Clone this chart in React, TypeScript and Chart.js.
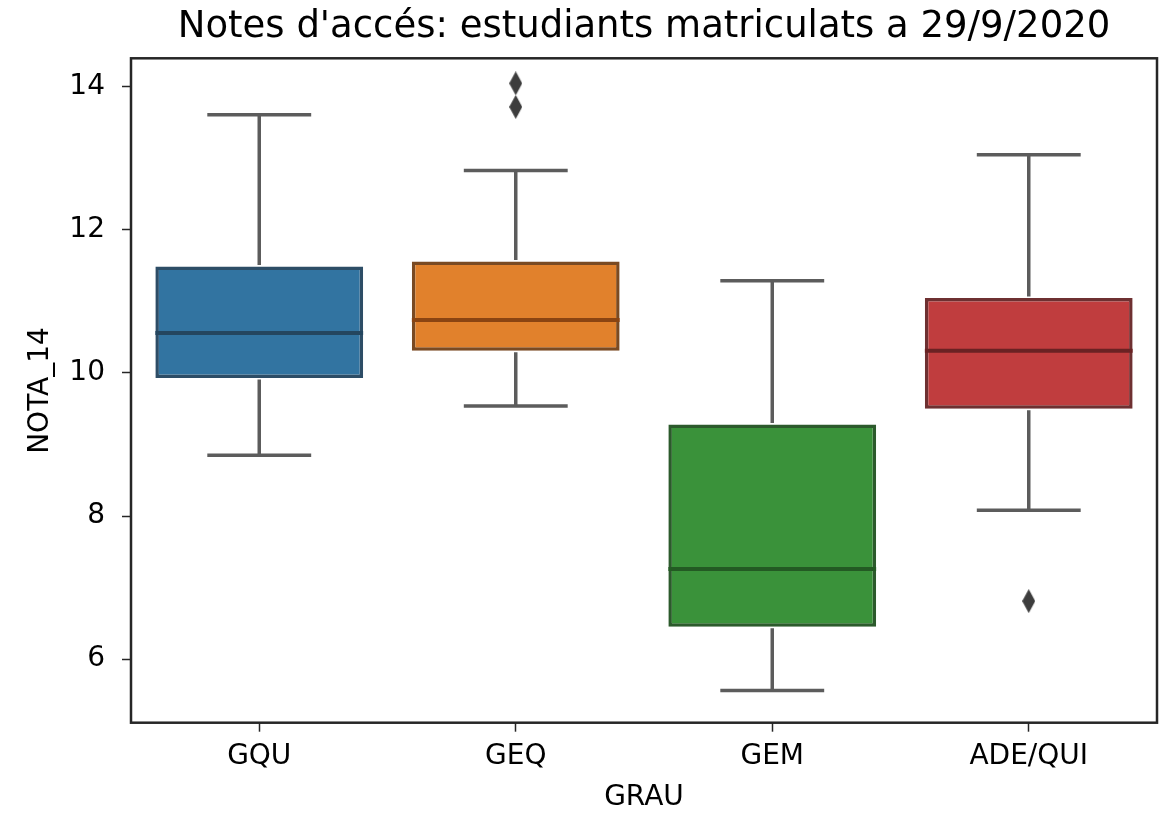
import React, { useEffect, useRef } from "react";
import { Chart, registerables } from "chart.js";

Chart.register(...registerables);

const categories = ["GQU", "GEQ", "GEM", "ADE/QUI"];
const whiskerLow = [8.85, 9.54, 5.56, 8.08];
const q1 = [9.93, 10.31, 6.45, 9.5];
const median = [10.56, 10.74, 7.26, 10.31];
const q3 = [11.49, 11.56, 9.28, 11.05];
const whiskerHigh = [13.61, 12.83, 11.29, 13.05];
const outlierCats = ["GEQ", "GEQ", "ADE/QUI"];
const outlierValues = [14.05, 13.72, 6.81];
const yTicks = [6, 8, 10, 12, 14];

const fillColors = ["#3274a1", "#e1812c", "#3a923a", "#c03d3e"];
const edgeColors = ["#2d4d66", "#7a4a22", "#2c5a2c", "#6e3031"];
const medianColors = ["#24465f", "#8a4412", "#235a23", "#6a2223"];
const whiskerColor = "#5c5c5c";
const frameColor = "#262626";

const FONT = "'DejaVu Sans', sans-serif";

const boxPlugin = {
  id: "boxParts",
  afterDatasetsDraw(chart: any) {
    const ctx = chart.ctx;
    const y = chart.scales.y;
    const meta = chart.getDatasetMeta(0);
    meta.data.forEach((bar: any, i: number) => {
      const x = bar.x;
      const w = bar.width;
      const pLo = y.getPixelForValue(whiskerLow[i]);
      const pQ1 = y.getPixelForValue(q1[i]);
      const pMed = y.getPixelForValue(median[i]);
      const pQ3 = y.getPixelForValue(q3[i]);
      const pHi = y.getPixelForValue(whiskerHigh[i]);
      ctx.save();
      ctx.lineCap = "butt";
      ctx.strokeStyle = whiskerColor;
      ctx.lineWidth = 3.5;
      ctx.beginPath();
      ctx.moveTo(x, pQ1 + 1.5);
      ctx.lineTo(x, pLo);
      ctx.moveTo(x, pQ3 - 1.5);
      ctx.lineTo(x, pHi);
      ctx.moveTo(x - w / 4, pLo);
      ctx.lineTo(x + w / 4, pLo);
      ctx.moveTo(x - w / 4, pHi);
      ctx.lineTo(x + w / 4, pHi);
      ctx.stroke();
      ctx.strokeStyle = medianColors[i];
      ctx.lineWidth = 4;
      ctx.beginPath();
      ctx.moveTo(x - w / 2, pMed);
      ctx.lineTo(x + w / 2, pMed);
      ctx.stroke();
      ctx.restore();
    });
    const a = chart.chartArea;
    ctx.save();
    ctx.strokeStyle = frameColor;
    ctx.lineWidth = 2.5;
    ctx.strokeRect(a.left, a.top, a.right - a.left, a.bottom - a.top);
    ctx.restore();
  },
};

function makeDiamond(): HTMLCanvasElement {
  const c = document.createElement("canvas");
  c.width = 13;
  c.height = 24;
  const g = c.getContext("2d")!;
  g.fillStyle = "#3d3d3d";
  g.beginPath();
  g.moveTo(6.5, 0);
  g.lineTo(13, 12);
  g.lineTo(6.5, 24);
  g.lineTo(0, 12);
  g.closePath();
  g.fill();
  return c;
}

export default function App() {
  const ref = useRef<HTMLCanvasElement>(null);
  useEffect(() => {
    const diamond = makeDiamond();
    const chart = new Chart(ref.current!, {
      type: "bar",
      data: {
        labels: categories,
        datasets: [
          {
            type: "bar",
            data: categories.map((_, i) => [q1[i], q3[i]]) as any,
            backgroundColor: fillColors,
            borderColor: edgeColors,
            borderWidth: 3.5,
            borderSkipped: false,
            categoryPercentage: 0.81,
            barPercentage: 1,
          },
          {
            type: "line",
            data: outlierCats.map((c, i) => ({ x: c, y: outlierValues[i] })) as any,
            showLine: false,
            pointStyle: diamond as any,
            pointRadius: 6,
          },
        ],
      },
      plugins: [boxPlugin],
      options: {
        responsive: false,
        animation: false,
        layout: { padding: { left: 0, right: 9, top: 0, bottom: 0 } },
        plugins: {
          legend: { display: false },
          tooltip: { enabled: false },
          title: {
            display: true,
            text: "Notes d'accés: estudiants matriculats a 29/9/2020",
            fullSize: false,
            color: "#000",
            font: { family: FONT, size: 37, weight: "normal", lineHeight: 1.2 },
            padding: { top: 5, bottom: 8.9 },
          },
        },
        scales: {
          x: {
            type: "category",
            offset: true,
            grid: {
              display: true,
              offset: false,
              drawOnChartArea: false,
              drawTicks: true,
              tickLength: 9,
              tickWidth: 1.5,
              color: frameColor,
            },
            border: { display: false },
            ticks: {
              color: "#000",
              padding: 8.5,
              font: { family: FONT, size: 28, lineHeight: 1.2 },
            },
            title: {
              display: true,
              text: "GRAU",
              color: "#000",
              font: { family: FONT, size: 28, lineHeight: 1.07 },
              padding: { top: 0, bottom: 0 },
            },
            afterFit: (s: any) => {
              s.height = 90.3;
            },
          },
          y: {
            type: "linear",
            min: 5.11,
            max: 14.4,
            grid: {
              display: true,
              drawOnChartArea: false,
              drawTicks: true,
              tickLength: 9,
              tickWidth: 1.5,
              color: frameColor,
            },
            border: { display: false },
            afterBuildTicks: (s: any) => {
              s.ticks = yTicks.map((v) => ({ value: v }));
            },
            ticks: {
              color: "#000",
              padding: 17,
              font: { family: FONT, size: 28, lineHeight: 1.2 },
              callback: (v: any) => String(v),
            },
            title: {
              display: true,
              text: "NOTA_14",
              color: "#000",
              font: { family: FONT, size: 28, lineHeight: 1.2 },
              padding: { top: 23.5, bottom: 0 },
            },
            afterFit: (s: any) => {
              s.width = 131;
            },
          },
        },
      },
    });
    return () => chart.destroy();
  }, []);
  return (
    <div style={{ position: "fixed", left: 0, top: 0, width: 1166, height: 813, background: "#fff" }}>
      <canvas ref={ref} width={1166} height={813} />
    </div>
  );
}
